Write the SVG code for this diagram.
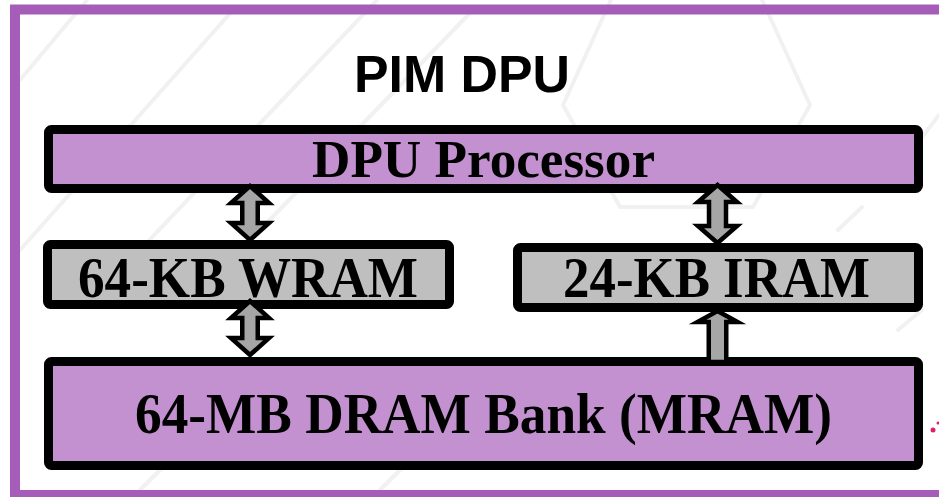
<svg xmlns="http://www.w3.org/2000/svg" width="939" height="497" viewBox="0 0 939 497">
  <style>
    .wm { fill: none; stroke: #f1f1f1; stroke-width: 4; stroke-linecap: round; stroke-linejoin: round; }
    .frame { fill: none; stroke: #a65cb9; stroke-width: 10; }
    .box { stroke: #000; stroke-width: 9; stroke-linejoin: round; }
    .purple { fill: #c390d0; }
    .gray { fill: #bfbfbf; }
    .label { font-family: "Liberation Serif", "Times New Roman", serif; font-weight: bold; fill: #000; text-anchor: middle; }
    .title { font-family: "Liberation Sans", Arial, sans-serif; font-weight: bold; font-size: 52px; fill: #000; text-anchor: middle; }
    .arrow { fill: #a6a6a6; stroke: #000; stroke-width: 4.5; stroke-linejoin: miter; stroke-miterlimit: 10; }
  </style>

  <rect x="0" y="0" width="939" height="497" fill="#ffffff"/>

  <g id="watermark">
    <polygon class="wm" points="620,-20 753,-20 810,105 753,207 620,207 563,105"/>
    <line class="wm" x1="20" y1="80" x2="87" y2="0"/>
    <line class="wm" x1="20" y1="250" x2="233" y2="10"/>
    <line class="wm" x1="140" y1="250" x2="377" y2="0"/>
    <line class="wm" x1="260" y1="230" x2="470" y2="13"/>
    <line class="wm" x1="140" y1="490" x2="230" y2="400"/>
    <line class="wm" x1="380" y1="490" x2="430" y2="440"/>
    <line class="wm" x1="838" y1="230" x2="862" y2="207"/>
    <line class="wm" x1="898" y1="330" x2="922" y2="310"/>
    <line class="wm" x1="920" y1="140" x2="939" y2="115"/>
  </g>

  <g id="frame">
    <rect class="frame" x="15" y="9.5" width="940" height="485.5"/>
  </g>

  <g id="title">
    <text class="title" x="462" y="92" textLength="216" lengthAdjust="spacingAndGlyphs">PIM DPU</text>
  </g>

  <g id="dpu-processor">
    <rect class="box purple" x="48.5" y="129.5" width="870" height="59" rx="3"/>
    <text class="label" x="483.5" y="177" font-size="53" textLength="343" lengthAdjust="spacingAndGlyphs">DPU Processor</text>
  </g>

  <g id="wram">
    <rect class="box gray" x="47.5" y="244.5" width="402" height="60" rx="3"/>
    <text class="label" x="248" y="297" font-size="56" textLength="340" lengthAdjust="spacingAndGlyphs">64-KB WRAM</text>
  </g>

  <g id="iram">
    <rect class="box gray" x="517.5" y="247.5" width="401" height="60" rx="3"/>
    <text class="label" x="716.5" y="297" font-size="56" textLength="307" lengthAdjust="spacingAndGlyphs">24-KB IRAM</text>
  </g>

  <g id="dram">
    <rect class="box purple" x="48.5" y="361.5" width="870" height="104" rx="3"/>
    <text class="label" x="483.5" y="433" font-size="56" textLength="697" lengthAdjust="spacingAndGlyphs">64-MB DRAM Bank (MRAM)</text>
  </g>

  <g id="connectors">
    <polygon class="arrow" points="250,186 269,203 257.75,203 257.75,223 269,223 250,240 231,223 242.25,223 242.25,203 231,203"/>
    <polygon class="arrow" points="250,301 269,318 257.75,318 257.75,338 269,338 250,355 231,338 242.25,338 242.25,318 231,318"/>
    <polygon class="arrow" points="717.5,185 737,202 726,202 726,226 737,226 717.5,243 698,226 709,226 709,202 698,202"/>
    <polygon class="arrow" points="717.5,311 737.5,322 726.25,322 726.25,362 708.75,362 708.75,322 697.5,322"/>
  </g>

  <g id="marks">
    <circle cx="933" cy="430" r="2.5" fill="#d8246c"/>
    <circle cx="938" cy="423" r="1.5" fill="#d8246c"/>
  </g>
</svg>
